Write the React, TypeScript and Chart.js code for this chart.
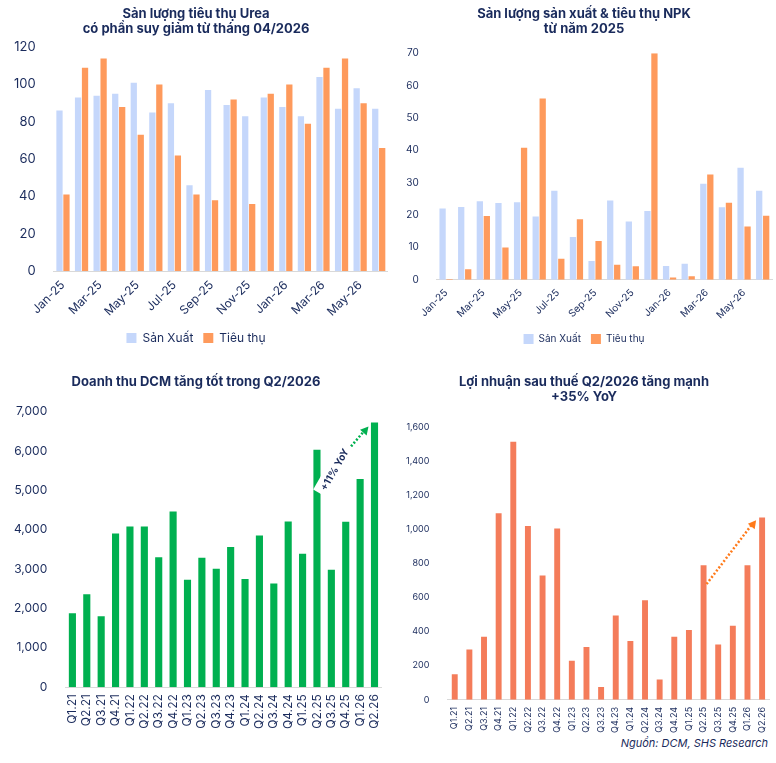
import React, { useEffect, useRef } from "react";
import { Chart, registerables } from "chart.js";
Chart.register(...registerables);

const months = ["Jan-25","Feb-25","Mar-25","Apr-25","May-25","Jun-25","Jul-25","Aug-25","Sep-25","Oct-25","Nov-25","Dec-25","Jan-26","Feb-26","Mar-26","Apr-26","May-26","Jun-26"];
const ureaSX = [86,93,94,95,101,85,90,46,97,89,83,93,88,83,104,87,98,87];
const ureaTT = [41,109,114,88,73,100,62,41,38,92,36,95,100,79,109,114,90,66];
const npkSX = [22,22.5,24.3,23.7,24,19.6,27.5,13.2,5.8,24.5,18,21.3,4.3,5,29.7,22.4,34.6,27.5];
const npkTT = [0.3,3.3,19.7,10,40.8,56,6.5,18.7,12,4.7,4.2,70,0.7,1.1,32.5,23.8,16.5,19.8];
const quarters = ["Q1.21","Q2.21","Q3.21","Q4.21","Q1.22","Q2.22","Q3.22","Q4.22","Q1.23","Q2.23","Q3.23","Q4.23","Q1.24","Q2.24","Q3.24","Q4.24","Q1.25","Q2.25","Q3.25","Q4.25","Q1.26","Q2.26"];
const revenue = [1880,2360,1800,3900,4080,4080,3300,4460,2730,3290,3010,3560,2750,3850,2630,4210,3390,6030,2980,4200,5290,6720];
const profit = [150,295,370,1095,1515,1020,730,1005,230,310,75,495,345,585,120,370,410,790,325,435,790,1070];

const NAVY = "#1a2b5c";
const FONT = "Inter, 'Noto Sans', sans-serif";
const BLUE = "#c5d7fb";
const ORANGE = "#fe9a5c";

function arrowPlugin(color: string, from: number, to: number, label?: string) {
  return {
    id: "arrow" + color,
    afterDatasetsDraw(chart: any) {
      const x = chart.scales.x, y = chart.scales.y;
      const ds = chart.data.datasets[0].data;
      const x1 = x.getPixelForValue(from) + 3, y1 = y.getPixelForValue(ds[from] * 0.86);
      const x2 = x.getPixelForValue(to) - 6, y2 = y.getPixelForValue(ds[to] * 0.985);
      const ctx = chart.ctx;
      ctx.save();
      ctx.strokeStyle = color; ctx.fillStyle = color; ctx.lineWidth = 2.5;
      ctx.setLineDash([2, 2]);
      ctx.beginPath(); ctx.moveTo(x1, y1); ctx.lineTo(x2 - 4, y2 + 4); ctx.stroke();
      ctx.setLineDash([]);
      const a = Math.atan2(y2 - y1, x2 - x1);
      ctx.beginPath();
      ctx.moveTo(x2, y2);
      ctx.lineTo(x2 - 9 * Math.cos(a - 0.5), y2 - 9 * Math.sin(a - 0.5));
      ctx.lineTo(x2 - 9 * Math.cos(a + 0.5), y2 - 9 * Math.sin(a + 0.5));
      ctx.closePath(); ctx.fill();
      if (label) {
        const mx = x.getPixelForValue(from) + 18, my = y.getPixelForValue(ds[from]) + 20;
        ctx.translate(mx, my); ctx.rotate(-Math.PI / 3);
        ctx.fillStyle = "#fff";
        ctx.fillRect(-28, -9, 56, 18);
        ctx.fillStyle = NAVY; ctx.font = "bold 10px " + FONT;
        ctx.textAlign = "center"; ctx.textBaseline = "middle";
        ctx.fillText(label, 0, 0);
      }
      ctx.restore();
    },
  };
}

function useChart(ref: any, cfg: any) {
  useEffect(() => {
    const c = new Chart(ref.current, cfg);
    return () => c.destroy();
  }, []);
}

function baseOpts(title: string[], tickSize: number, xSize: number, yMax: number, yStep: number, rot: number, skip: boolean, legend: boolean, thousands: boolean, tpad: number) {
  return {
    animation: false, responsive: false, maintainAspectRatio: false,
    layout: { padding: { left: 4, right: 4, top: 0, bottom: 0 } },
    plugins: {
      title: { display: true, text: title, color: NAVY, font: { family: FONT, size: 13, weight: "bold" }, padding: { top: 4, bottom: tpad } },
      legend: { display: legend, position: "bottom", labels: { boxWidth: 10, boxHeight: 10, color: NAVY, font: { family: FONT, size: xSize }, padding: 10 } },
      tooltip: { enabled: false },
    },
    scales: {
      x: {
        grid: { display: false, drawTicks: true, tickLength: 4, color: "#d9d9d9" },
        border: { color: "#d9d9d9" },
        ticks: {
          color: NAVY, font: { family: FONT, size: xSize }, autoSkip: false, maxRotation: rot, minRotation: rot,
          callback: function (this: any, v: any, i: number) { return skip && i % 2 ? "" : this.getLabelForValue(v); },
        },
      },
      y: {
        min: 0, max: yMax, grid: { display: false }, border: { display: false },
        ticks: { stepSize: yStep, color: NAVY, font: { family: FONT, size: tickSize }, padding: 10,
          callback: (v: number) => thousands ? v.toLocaleString("en-US") : v },
      },
    },
  };
}

export default function App() {
  const r1 = useRef(null), r2 = useRef(null), r3 = useRef(null), r4 = useRef(null);
  useChart(r1, {
    type: "bar",
    data: { labels: months, datasets: [
      { label: "Sản Xuất", data: ureaSX, backgroundColor: BLUE, categoryPercentage: 0.75, barPercentage: 0.9 },
      { label: "Tiêu thụ", data: ureaTT, backgroundColor: ORANGE, categoryPercentage: 0.75, barPercentage: 0.9 },
    ] },
    options: baseOpts(["Sản lượng tiêu thụ Urea", "có phần suy giảm từ tháng 04/2026"], 13, 12, 120, 20, 45, true, true, false, 10),
  });
  useChart(r2, {
    type: "bar",
    data: { labels: months, datasets: [
      { label: "Sản Xuất", data: npkSX, backgroundColor: BLUE, categoryPercentage: 0.75, barPercentage: 0.9 },
      { label: "Tiêu thụ", data: npkTT, backgroundColor: ORANGE, categoryPercentage: 0.75, barPercentage: 0.9 },
    ] },
    options: baseOpts(["Sản lượng sản xuất & tiêu thụ NPK", "từ năm 2025"], 10, 10, 70, 10, 45, true, true, false, 16),
  });
  useChart(r3, {
    type: "bar",
    data: { labels: quarters, datasets: [{ label: "DT", data: revenue, backgroundColor: "#00b050", categoryPercentage: 0.9, barPercentage: 0.55 }] },
    options: baseOpts(["Doanh thu DCM tăng tốt trong Q2/2026"], 12, 12, 7000, 1000, 90, false, false, true, 22),
    plugins: [arrowPlugin("#00b050", 17, 21, "+11% YoY")],
  });
  useChart(r4, {
    type: "bar",
    data: { labels: quarters, datasets: [{ label: "LN", data: profit, backgroundColor: "#f47c5a", categoryPercentage: 0.9, barPercentage: 0.45 }] },
    options: baseOpts(["Lợi nhuận sau thuế Q2/2026 tăng mạnh", "+35% YoY"], 9, 9, 1600, 200, 90, false, false, true, 22),
    plugins: [arrowPlugin("#ff7a1a", 17, 21)],
  });
  const abs = (l: number, t: number): any => ({ position: "absolute", left: l, top: t });
  return (
    <div style={{ position: "fixed", left: 0, top: 0, width: 776, height: 763, background: "#fff", fontFamily: FONT }}>
      <canvas ref={r1} width={392} height={352} style={abs(0, 2)} />
      <canvas ref={r2} width={384} height={352} style={abs(392, 2)} />
      <canvas ref={r3} width={392} height={362} style={abs(0, 370)} />
      <canvas ref={r4} width={384} height={366} style={abs(392, 370)} />
      <div style={{ position: "absolute", right: 8, top: 736, fontStyle: "italic", fontSize: 11, color: NAVY }}>Nguồn: DCM, SHS Research</div>
    </div>
  );
}
